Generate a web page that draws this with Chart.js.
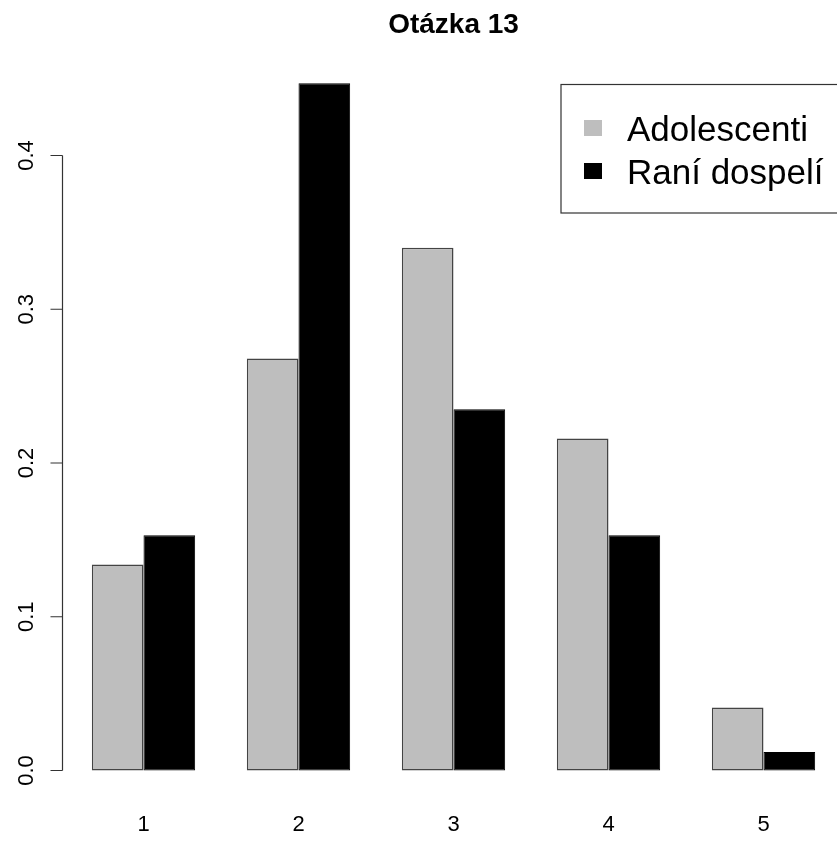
<!DOCTYPE html>
<html>
<head>
<meta charset="utf-8">
<script src="https://cdn.jsdelivr.net/npm/chart.js@4/dist/chart.umd.min.js"></script>
<style>
  html, body { margin: 0; padding: 0; background: #fff; overflow: hidden; }
  #wrap { width: 845px; height: 842px; }
</style>
</head>
<body>
<div id="wrap"><canvas id="chart" width="845" height="842"></canvas></div>
<script>
const categories = ['1', '2', '3', '4', '5'];
const adolescenti = [0.134, 0.268, 0.340, 0.216, 0.041];
const raniDospeli = [0.153, 0.447, 0.235, 0.153, 0.012];
const yTicks = [0, 0.1, 0.2, 0.3, 0.4];
const seriesNames = ['Adolescenti', 'Raní dospelí'];

const FONT = "'Liberation Sans', Arial, sans-serif";
Chart.defaults.font.family = FONT;

// R-style y axis: line only from first to last tick, labels turned 90°
const rAxisPlugin = {
  id: 'rAxis',
  afterDraw(chart) {
    const y = chart.scales.y;
    const ctx = chart.ctx;
    const x0 = 62.5;
    ctx.save();
    ctx.strokeStyle = '#333';
    ctx.lineWidth = 1.2;
    ctx.beginPath();
    ctx.moveTo(x0, y.getPixelForValue(yTicks[0]));
    ctx.lineTo(x0, y.getPixelForValue(yTicks[yTicks.length - 1]));
    yTicks.forEach(t => {
      const py = y.getPixelForValue(t);
      ctx.moveTo(x0, py);
      ctx.lineTo(x0 - 12, py);
    });
    ctx.stroke();

    ctx.fillStyle = '#000';
    ctx.font = '22px ' + FONT;
    ctx.textAlign = 'center';
    ctx.textBaseline = 'alphabetic';
    yTicks.forEach(t => {
      const py = y.getPixelForValue(t);
      ctx.save();
      ctx.translate(33, py);
      ctx.rotate(-Math.PI / 2);
      ctx.fillText(t.toFixed(1), 0, 0);
      ctx.restore();
    });
    ctx.restore();
  }
};

// boxed legend in the top right corner (runs off the page like the original)
const boxLegendPlugin = {
  id: 'boxLegend',
  afterDraw(chart) {
    const ctx = chart.ctx;
    ctx.save();
    ctx.fillStyle = '#fff';
    ctx.fillRect(561, 84, 300, 129);
    ctx.strokeStyle = '#333';
    ctx.lineWidth = 1.2;
    ctx.strokeRect(561, 84.5, 300, 128.5);

    ctx.font = '35px ' + FONT;
    ctx.textAlign = 'left';
    ctx.textBaseline = 'alphabetic';
    const rows = [128, 171];
    chart.data.datasets.forEach((ds, i) => {
      ctx.fillStyle = ds.backgroundColor;
      ctx.fillRect(584, rows[i] - 8, 18, 16);
      ctx.fillStyle = '#000';
      ctx.fillText(ds.label, 627, rows[i] + 13);
    });
    ctx.restore();
  }
};

new Chart(document.getElementById('chart'), {
  type: 'bar',
  data: {
    labels: categories,
    datasets: [
      {
        label: seriesNames[0],
        data: adolescenti,
        backgroundColor: '#bebebe',
        borderColor: '#444',
        borderWidth: 1.5,
        borderSkipped: false
      },
      {
        label: seriesNames[1],
        data: raniDospeli,
        backgroundColor: '#000000',
        borderColor: '#000000',
        borderWidth: 1,
        borderSkipped: false
      }
    ]
  },
  options: {
    responsive: false,
    animation: false,
    categoryPercentage: 2 / 3,
    barPercentage: 1,
    layout: { padding: { left: 66, right: 4, top: 0, bottom: 0 } },
    plugins: {
      legend: { display: false },
      tooltip: { enabled: false },
      title: {
        display: true,
        text: 'Otázka 13',
        fullSize: false,
        color: '#000',
        font: { size: 28, weight: 'bold', lineHeight: 1.2 },
        padding: { top: 8, bottom: 14.4 }
      }
    },
    scales: {
      x: {
        grid: { display: false, drawTicks: false },
        border: { display: false },
        ticks: { color: '#000', font: { size: 22 }, padding: 14 },
        afterFit: (scale) => { scale.height = 44; }
      },
      y: {
        display: false,
        min: -0.0179,
        max: 0.4647
      }
    }
  },
  plugins: [rAxisPlugin, boxLegendPlugin]
});
</script>
</body>
</html>
